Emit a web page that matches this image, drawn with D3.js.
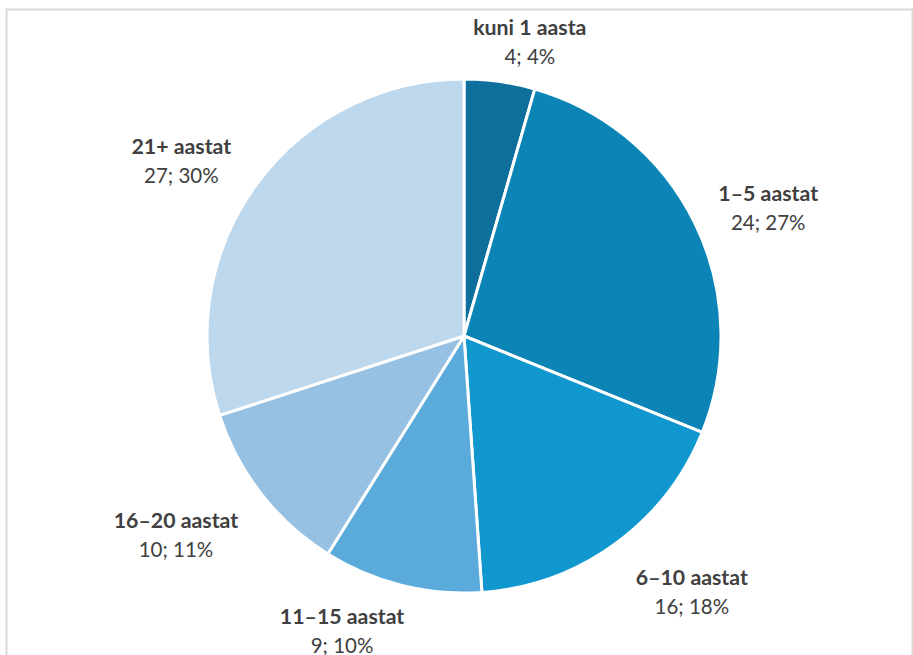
<!DOCTYPE html>
<html><head><meta charset="utf-8">
<script src="https://cdn.jsdelivr.net/npm/d3@7"></script>
<style>body{margin:0;background:#fff}svg{display:block}</style>
</head><body>
<script>
const categories = ["kuni 1 aasta","1–5 aastat","6–10 aastat","11–15 aastat","16–20 aastat","21+ aastat"];
const values = [4,24,16,9,10,27];
const percentLabels = ["4%","27%","18%","10%","11%","30%"];
const colors = ["#0e6f9c","#0c84b5","#1097cd","#5aaadb","#96c1e3","#bdd7ec"];
// label layout (angle nudge in radians, distance from centre in px)
const labelAngleNudge = [0.083,0.063,-0.093,0.144,0.051,-0.081];
const labelRadius = [298,329,345,322,352,331];

const W=913,H=655, cx=464, cy=336, R=257;
const svg=d3.select("body").append("svg").attr("width",W).attr("height",H);
svg.append("rect").attr("x",6.5).attr("y",9.5).attr("width",906).attr("height",680)
  .attr("fill","#fff").attr("stroke","#d9d9d9").attr("stroke-width",2);
const g=svg.append("g").attr("transform",`translate(${cx},${cy})`);
const pie=d3.pie().sort(null).value(d=>d)(values);
const arc=d3.arc().innerRadius(0).outerRadius(R);
g.selectAll("path.s").data(pie).join("path").attr("class","s")
  .attr("d",arc).attr("fill",(d,i)=>colors[i])
  .attr("stroke","#fff").attr("stroke-width",3).attr("stroke-linejoin","round");
const lab=g.selectAll("text.l").data(pie).join("text").attr("class","l")
  .attr("text-anchor","middle").attr("font-family","Lato, 'Open Sans', sans-serif").attr("fill","#404040")
  .attr("transform",(d,i)=>{const a=(d.startAngle+d.endAngle)/2+labelAngleNudge[i];
     return `translate(${labelRadius[i]*Math.sin(a)},${-labelRadius[i]*Math.cos(a)})`;});
lab.append("tspan").attr("x",0).attr("y",-10).attr("font-weight","bold").attr("font-size",21.3).text((d,i)=>categories[i]);
lab.append("tspan").attr("x",0).attr("y",19).attr("font-size",20.5).text((d,i)=>`${values[i]}; ${percentLabels[i]}`);
</script>
</body></html>
